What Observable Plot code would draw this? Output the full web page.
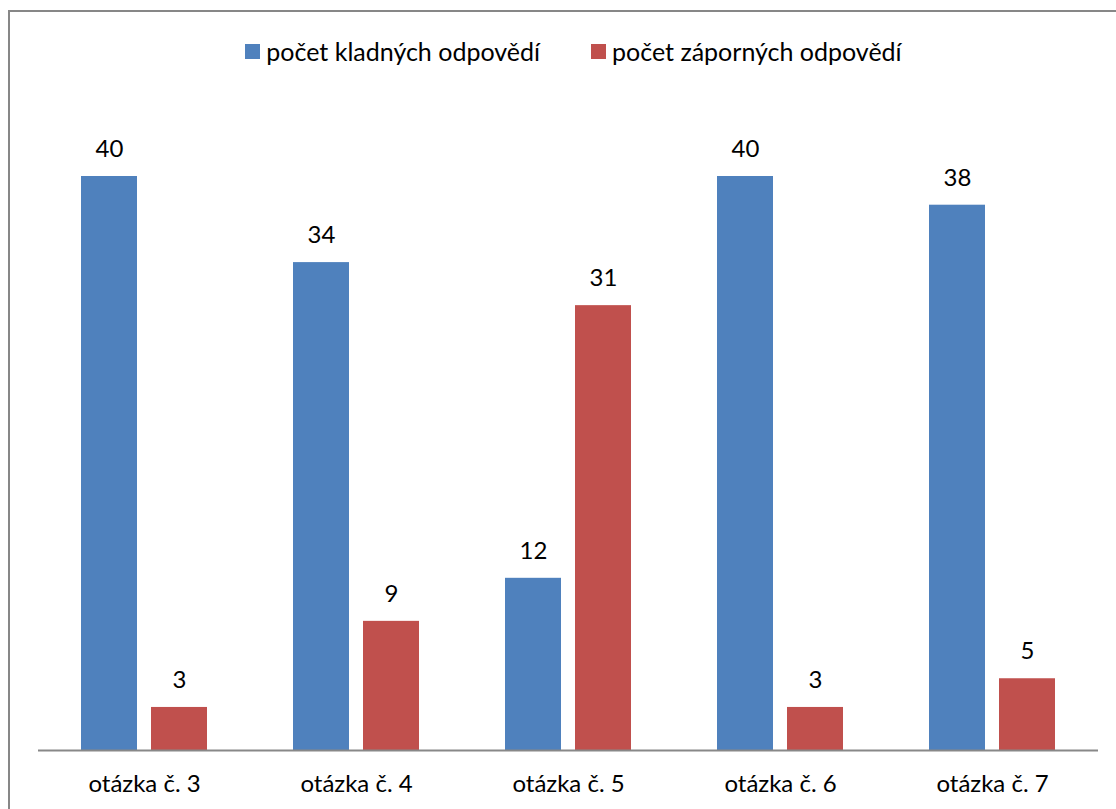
<!DOCTYPE html>
<html>
<head>
<meta charset="utf-8">
<script src="https://cdn.jsdelivr.net/npm/d3@7"></script>
<script src="https://cdn.jsdelivr.net/npm/@observablehq/plot@0.6"></script>
<style>
  html, body { margin: 0; padding: 0; background: #fff; overflow: hidden; }
  #wrap { position: relative; width: 1116px; height: 809px; font-family: Lato, "Open Sans", sans-serif; }
  #frame { position: absolute; left: 8px; top: 10px; width: 1200px; height: 900px; border: 2px solid #878787; box-sizing: border-box; pointer-events: none; }
  #legend { height: 80px; display: flex; justify-content: center; align-items: flex-start; width: 1147px; }
  .item { display: flex; align-items: center; margin-top: 37px; font-size: 25px; color: #000; line-height: 28px; }
  .item + .item { margin-left: 51px; }
  .sw { width: 15px; height: 15px; margin-right: 6px; }
  svg { display: block; }
</style>
</head>
<body>
<div id="wrap">
  <div id="legend"></div>
  <div id="chart"></div>
  <div id="frame"></div>
</div>
<script>
const categories = ["otázka č. 3", "otázka č. 4", "otázka č. 5", "otázka č. 6", "otázka č. 7"];
const series = ["počet kladných odpovědí", "počet záporných odpovědí"];
const kladne = [40, 34, 12, 40, 38];
const zaporne = [3, 9, 31, 3, 5];
const colors = ["#4F81BD", "#C0504D"];

const data = [];
categories.forEach((c, i) => {
  data.push({cat: c, ser: series[0], v: kladne[i]});
  data.push({cat: c, ser: series[1], v: zaporne[i]});
});

const legend = document.getElementById("legend");
series.forEach((s, i) => {
  const it = document.createElement("div");
  it.className = "item";
  const sw = document.createElement("div");
  sw.className = "sw";
  sw.style.background = colors[i];
  const t = document.createElement("span");
  t.textContent = s;
  it.appendChild(sw); it.appendChild(t);
  legend.appendChild(it);
});

const chart = Plot.plot({
  width: 1116,
  height: 729,
  marginLeft: 38,
  marginRight: 18,
  marginTop: 96,
  marginBottom: 59,
  style: {fontFamily: "Lato, 'Open Sans', sans-serif", fontSize: "24px", color: "#000", background: "transparent"},
  fx: {domain: categories, padding: 0, label: null},
  x: {domain: series, paddingInner: 0.2, paddingOuter: 0.614, axis: null},
  y: {domain: [0, 40], axis: null},
  color: {domain: series, range: colors},
  marks: [
    Plot.barY(data, {fx: "cat", x: "ser", y: "v", fill: "ser"}),
    Plot.ruleY([0], {stroke: "#888", strokeWidth: 2}),
    Plot.text(data, {fx: "cat", x: "ser", y: "v", text: d => String(d.v), lineAnchor: "middle", dy: -27, fontSize: 24, fill: "#000"}),
    Plot.axisFx({anchor: "bottom", tickSize: 0, tickPadding: 24, fontSize: 24, label: null})
  ]
});
document.getElementById("chart").appendChild(chart);
</script>
</body>
</html>
